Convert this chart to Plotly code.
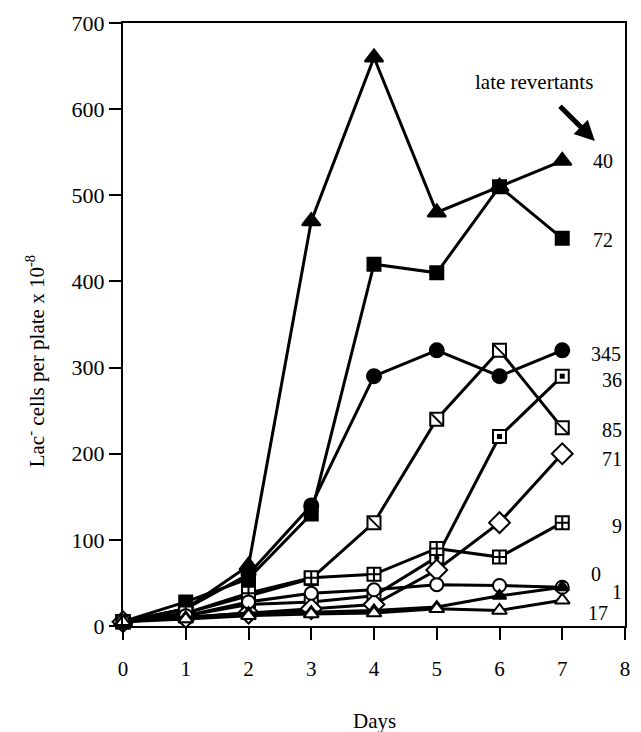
import plotly.graph_objects as go

days = [0, 1, 2, 3, 4, 5, 6, 7]

# series values (Lac- cells per plate x 10^-8), one list per culture
s40 = [5, 20, 70, 470, 660, 480, 510, 540]
s72 = [5, 28, 55, 130, 420, 410, 510, 450]
s345 = [5, 20, 60, 140, 290, 320, 290, 320]
s36 = [5, 12, 25, 28, 35, 80, 220, 290]
s85 = [5, 15, 35, 55, 120, 240, 320, 230]
s71 = [5, 10, 15, 20, 25, 65, 120, 200]
s9 = [5, 15, 38, 56, 60, 90, 80, 120]
s0 = [5, 12, 28, 38, 42, 48, 47, 45]
s1 = [5, 10, 15, 16, 18, 22, 35, 45]
s17 = [5, 8, 12, 14, 15, 20, 18, 30]

series_names = ["40", "72", "345", "36", "85", "71", "9", "0", "1", "17"]
series_values = [s40, s72, s345, s36, s85, s71, s9, s0, s1, s17]

# label placement (data coords) for the right-hand late-revertant counts
label_x = [7.65, 7.65, 7.70, 7.79, 7.79, 7.79, 7.88, 7.54, 7.87, 7.57]
label_y = [540, 448, 316, 286, 227, 194, 116, 60, 40, 15]

styles = {
    "40": dict(symbol="triangle-up", color="black", size=16),
    "72": dict(symbol="square", color="black", size=13),
    "345": dict(symbol="circle", color="black", size=14),
    "36": dict(symbol="square", color="white", size=13),
    "85": dict(symbol="square", color="white", size=13),
    "71": dict(symbol="diamond", color="white", size=16),
    "9": dict(symbol="square-cross", color="white", size=13),
    "0": dict(symbol="circle", color="white", size=13),
    "1": dict(symbol="triangle-up", color="black", size=12),
    "17": dict(symbol="triangle-up", color="white", size=13),
}

fig = go.Figure()
FONT = "Liberation Serif, Times New Roman, serif"

for name, vals in zip(series_names, series_values):
    st = styles[name]
    fig.add_trace(go.Scatter(
        x=days, y=vals, mode="lines+markers", name=name,
        line=dict(color="black", width=3),
        marker=dict(symbol=st["symbol"], color=st["color"], size=st["size"],
                    line=dict(color="black", width=2)),
        cliponaxis=False, showlegend=False,
    ))
    if name == "85":
        fig.add_trace(go.Scatter(
            x=days, y=vals, mode="markers",
            marker=dict(symbol="line-nw", size=11, color="black",
                        line=dict(color="black", width=2)),
            cliponaxis=False, showlegend=False, hoverinfo="skip",
        ))
    if name == "36":
        fig.add_trace(go.Scatter(
            x=days, y=vals, mode="markers",
            marker=dict(symbol="square", size=5, color="black",
                        line=dict(width=0)),
            cliponaxis=False, showlegend=False, hoverinfo="skip",
        ))

for name, lx, ly in zip(series_names, label_x, label_y):
    fig.add_annotation(x=lx, y=ly, text=name, showarrow=False,
                       font=dict(family=FONT, size=20, color="black"),
                       xref="x", yref="y")

fig.add_annotation(x=6.55, y=632, text="late revertants", showarrow=False,
                   font=dict(family=FONT, size=21, color="black"),
                   xref="x", yref="y")
fig.add_annotation(x=7.52, y=563, ax=6.94, ay=605, axref="x", ayref="y",
                   xref="x", yref="y", text="", showarrow=True,
                   arrowhead=2, arrowsize=0.8, arrowwidth=5, arrowcolor="black")

fig.add_annotation(x=-0.174, y=0.44, xref="paper", yref="paper",
                   xanchor="center", yanchor="middle",
                   text="Lac<sup>-</sup> cells per plate x 10<sup>-8</sup>",
                   textangle=-90, showarrow=False,
                   font=dict(family=FONT, size=21, color="black"))

fig.add_annotation(x=0.5, y=-0.158, xref="paper", yref="paper",
                   xanchor="center", yanchor="middle", text="Days", showarrow=False,
                   font=dict(family=FONT, size=21, color="black"))

fig.update_xaxes(range=[0, 8], dtick=1, tick0=0, showline=True, linecolor="black",
                 linewidth=2, mirror=True, ticks="outside", ticklen=12, tickwidth=2,
                 tickcolor="black", showgrid=False, zeroline=False,
                 ticklabelstandoff=11,
                 tickfont=dict(family=FONT, size=21, color="black"))
fig.update_yaxes(range=[0, 700], dtick=100, tick0=0, showline=True, linecolor="black",
                 linewidth=2, mirror=True, ticks="outside", ticklen=12, tickwidth=2,
                 tickcolor="black", showgrid=False, zeroline=False,
                 tickfont=dict(family=FONT, size=22, color="black"))

fig.update_layout(width=641, height=732, plot_bgcolor="white", paper_bgcolor="white",
                  margin=dict(l=123, r=11, t=17, b=106))

fig.write_html("out.html", config={"displayModeBar": False},
               post_script="document.body.style.margin='0';document.body.style.overflow='hidden';")
